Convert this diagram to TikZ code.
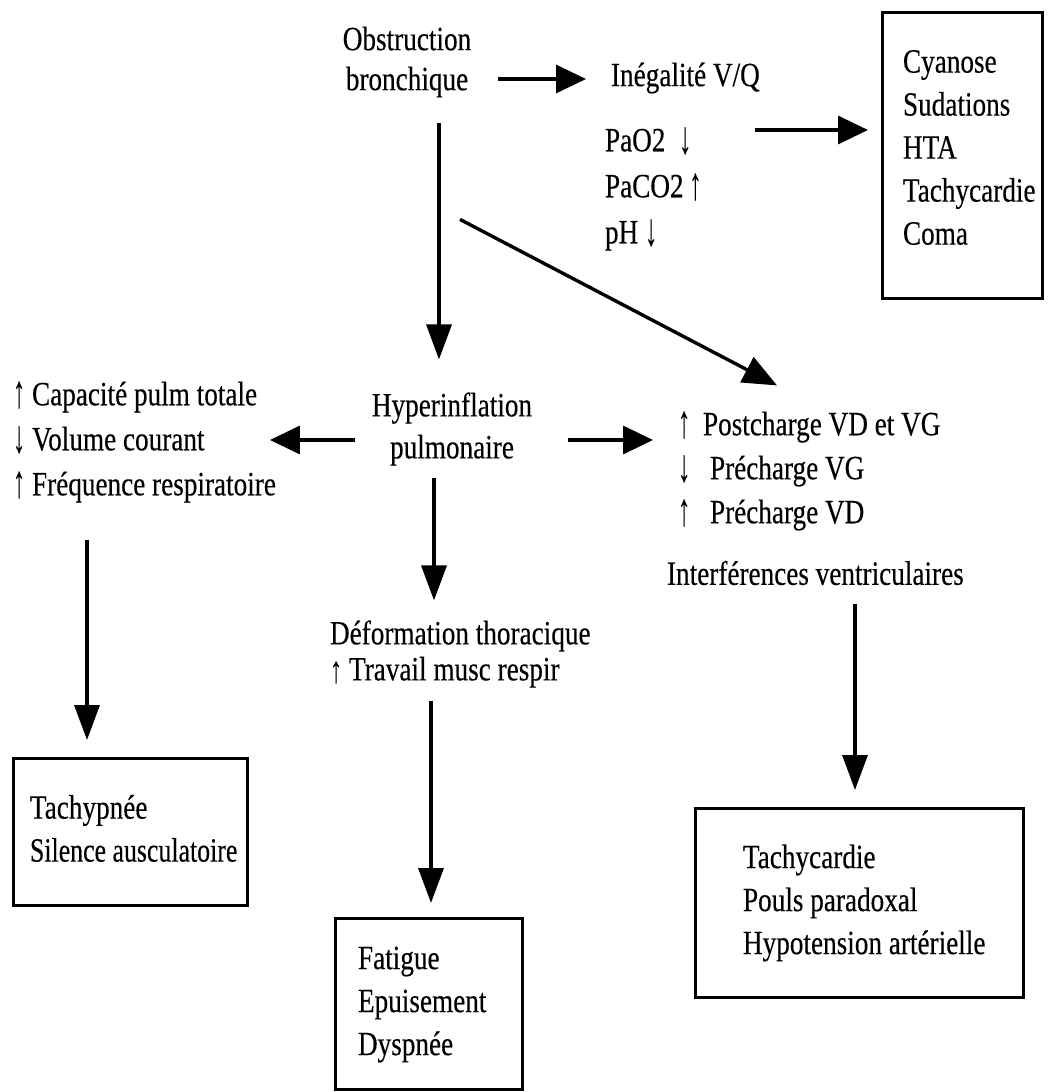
\documentclass[tikz,border=0pt]{standalone}
\usepackage{graphicx}
\usepackage{fontspec}
\setmainfont{Liberation Serif}[FakeStretch=0.8,FakeBold=0.3]
\usetikzlibrary{arrows.meta,calc}
\newcommand{\up}[1][1.35]{\raisebox{-2pt}{\scalebox{0.9}[#1]{↑}}}
\newcommand{\dn}[1][1.35]{\raisebox{-2pt}{\scalebox{0.9}[#1]{↓}}}
\newcommand{\boxlines}[2]{\makebox[#1][l]{\renewcommand{\arraystretch}{1}\begin{tabular}{@{}l@{}}#2\end{tabular}}}
\begin{document}
\begin{tikzpicture}[x=1pt,y=-1pt,
  txt/.style={inner sep=0pt, outer sep=0pt, align=left, font=\fontsize{34}{44}\selectfont},
  box/.style={draw, line width=3pt, inner ysep=0pt, outer sep=0pt, font=\fontsize{34}{43}\selectfont, anchor=north west},
  ln/.style={line width=3.4pt},
  harr/.style={ln, -{Triangle[length=30pt,width=28pt]}},
  varr/.style={ln, -{Triangle[length=35pt,width=25pt]}},
  darr/.style={ln, -{Triangle[length=34pt,width=28pt]}},
]
\useasboundingbox (0,0) rectangle (1047,1092);
\fill[white] (0,0) rectangle (1047,1092);

\node[txt, align=center, font=\fontsize{34}{40}\selectfont] (obs) at (407,62) {Obstruction\\bronchique};
\node[txt, anchor=west] (ineg) at (611,78) {Inégalité V/Q};
\node[txt, anchor=west, font=\fontsize{34}{46}\selectfont] (gas) at (605,189) {PaO2\ \ \dn\\PaCO2\,\up\\pH \dn};
\node[box, inner xsep=21pt, minimum height=286pt] (box1) at (882,12) {\raisebox{0pt}[\height][\dimexpr\depth+10pt\relax]{\boxlines{118pt}{Cyanose\\Sudations\\HTA\\Tachycardie\\Coma}}};
\node[txt, align=center, font=\fontsize{34}{42}\selectfont] (hyper) at (452,429) {Hyperinflation\\pulmonaire};
\node[txt, anchor=west, font=\fontsize{34}{45}\selectfont] (left) at (13,442) {\up\ Capacité pulm totale\\\dn\ Volume courant\\\up\ Fréquence respiratoire};
\node[txt, anchor=west, font=\fontsize{34}{44}\selectfont] (charge) at (678,471) {\makebox[25pt][l]{\up}Postcharge VD et VG\\\makebox[32pt][l]{\dn}Précharge VG\\\makebox[32pt][l]{\up}Précharge VD};
\node[txt, anchor=west] (interf) at (667,573) {Interférences ventriculaires};
\node[txt, anchor=west, font=\fontsize{34}{36}\selectfont] (defo) at (330,654) {Déformation thoracique\\\up[1.1]\ Travail musc respir};
\node[box, inner xsep=17pt, minimum height=147pt] (boxL) at (13,758) {\boxlines{200pt}{Tachypnée\\\scalebox{0.95}[1]{Silence ausculatoire}}};
\node[box, inner xsep=23pt, minimum height=171pt] (boxM) at (335,918) {\boxlines{141pt}{Fatigue\\Epuisement\\Dyspnée}};
\node[box, inner xsep=48pt, minimum height=189pt] (boxR) at (695,808) {\boxlines{232pt}{Tachycardie\\Pouls paradoxal\\Hypotension artérielle}};

\draw[harr] ($(obs.east |- ineg.west)+(27,1)$) -- ($(ineg.west)+(-25,1)$);
\draw[harr] ($(gas.north west |- box1.north west)+(150,118)$) -- ($(box1.north west)+(-14,118)$);
\draw[varr] ($(obs.south)+(32,26)$) -- ($(hyper.north)+(-13,-33)$);
\draw[darr] ($(obs.south)+(53,122)$) -- ($(charge.north west)+(99,-26)$);
\draw[harr] ($(hyper.west)+(-17,11)$) -- ($(left.east |- hyper.west)+(-6,11)$);
\draw[harr] ($(hyper.east)+(36,11)$) -- ($(charge.west)+(-25,-31)$);
\draw[varr] ($(hyper.south)+(-18,12)$) -- ($(defo.north west)+(104,-20)$);
\draw[varr] ($(left.south west)+(74,37)$) -- ($(boxL.north west)+(74,-18)$);
\draw[varr] ($(defo.south west)+(101,13)$) -- ($(boxM.north west)+(96,-15)$);
\draw[varr] ($(interf.south west)+(188,19)$) -- ($(boxR.north west)+(160,-18)$);
\end{tikzpicture}
\end{document}
